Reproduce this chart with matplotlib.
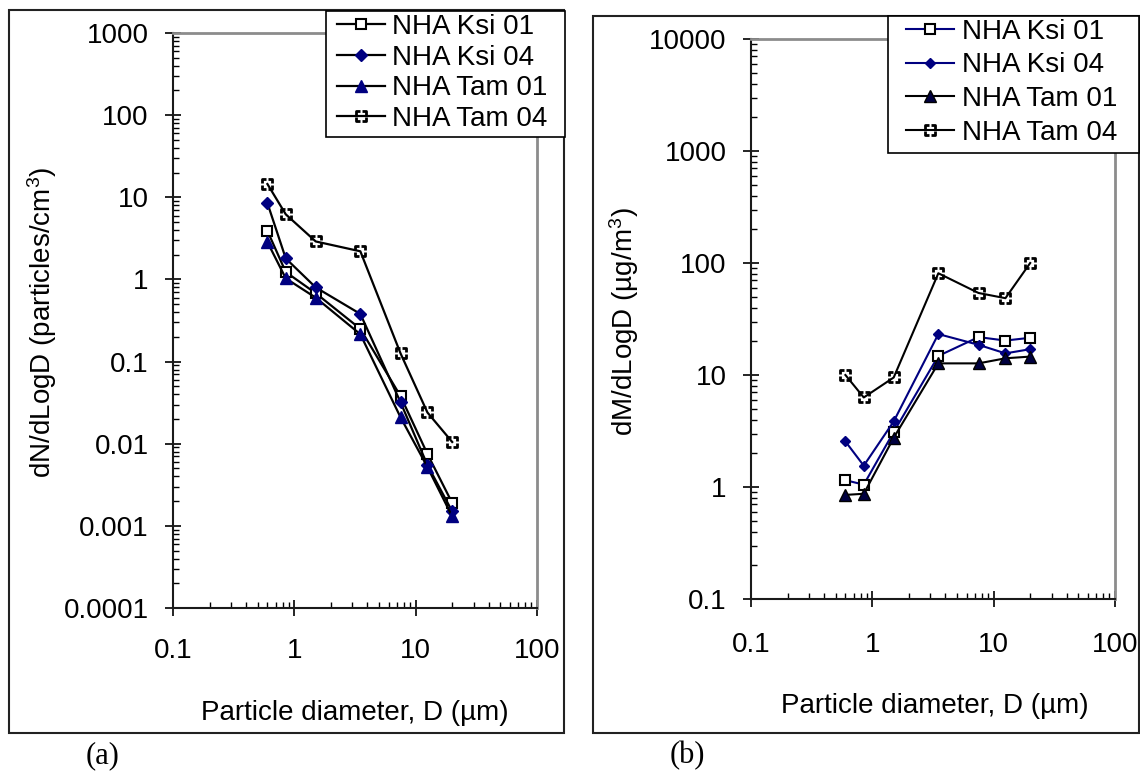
import numpy as np
import matplotlib
matplotlib.use("Agg")
import matplotlib.pyplot as plt
from matplotlib.path import Path
from matplotlib.patches import Rectangle
from matplotlib.ticker import LogLocator, NullFormatter, FuncFormatter

plt.rcParams["font.family"] = ["Liberation Sans", "DejaVu Sans"]
plt.rcParams["mathtext.fontset"] = "custom"
plt.rcParams["mathtext.rm"] = "Liberation Sans"
plt.rcParams["mathtext.it"] = "Liberation Sans:italic"

W, H = 1140, 778

# Diâmetros das partículas (µm)
diam = [0.6, 0.85, 1.5, 3.5, 7.5, 12.5, 20]

labels = ["NHA Ksi 01", "NHA Ksi 04", "NHA Tam 01", "NHA Tam 04"]

# (a) dN/dLogD (particles/cm3)
ksi01_n = [3.9, 1.23, 0.68, 0.25, 0.038, 0.0075, 0.0019]
ksi04_n = [8.5, 1.8, 0.8, 0.38, 0.032, 0.0055, 0.0015]
tam01_n = [2.85, 1.03, 0.6, 0.215, 0.021, 0.0052, 0.0013]
tam04_n = [14.5, 6.2, 2.9, 2.2, 0.126, 0.024, 0.0105]

# (b) dM/dLogD (µg/m3)
ksi01_m = [1.15, 1.05, 3.1, 14.8, 21.8, 20.3, 21.5]
ksi04_m = [2.55, 1.55, 3.85, 23.2, 18.6, 15.6, 17.0]
tam01_m = [0.85, 0.87, 2.75, 12.7, 12.7, 14.1, 14.6]
tam04_m = [10.0, 6.3, 9.5, 81, 54, 48.5, 100]

navy = "#000080"

# marcador "quadrado tracejado" (cantos em L)
verts = [(-0.3, 1), (-1, 1), (-1, 0.3),
         (0.3, 1), (1, 1), (1, 0.3),
         (1, -0.3), (1, -1), (0.3, -1),
         (-0.3, -1), (-1, -1), (-1, -0.3)]
codes = [Path.MOVETO, Path.LINETO, Path.LINETO] * 4
dash_sq = Path(verts, codes)


def fx(px):
    return px / W


def fy(py):
    return 1 - py / H


def estilo_eixo(ax, ylim, xpad):
    ax.set_xscale("log")
    ax.set_yscale("log")
    ax.set_xlim(0.1, 100)
    ax.set_ylim(*ylim)
    for s in ["left", "bottom"]:
        ax.spines[s].set_color("#1a1a1a")
        ax.spines[s].set_linewidth(1.5)
    for s in ["top", "right"]:
        ax.spines[s].set_color("#8c8c8c")
        ax.spines[s].set_linewidth(2)
    for axis in [ax.xaxis, ax.yaxis]:
        axis.set_major_locator(LogLocator(base=10, numticks=20))
        axis.set_minor_locator(LogLocator(base=10, subs=np.arange(2, 10), numticks=100))
        axis.set_minor_formatter(NullFormatter())
        axis.set_major_formatter(FuncFormatter(lambda v, p: f"{v:g}"))
    ax.tick_params(which="major", direction="inout", length=11, width=1.2,
                   color="black", labelsize=20, top=False, right=False)
    ax.tick_params(which="minor", direction="in", length=4.5, width=1.0,
                   color="black", top=False, right=False)
    ax.tick_params(axis="y", which="major", pad=12)
    ax.tick_params(axis="x", which="major", pad=xpad)


def legenda(handles, box, anchor, spacing, textpad):
    # caixa desenhada à parte para controlar as margens
    x0, y0, x1, y1 = box
    fig.add_artist(Rectangle((fx(x0), fy(y1)), fx(x1 - x0), (y1 - y0) / H,
                             transform=fig.transFigure, fc="white", ec="black", lw=1.2, zorder=4))
    fig.legend(handles, labels, loc="upper left", bbox_to_anchor=(fx(anchor[0]), fy(anchor[1])),
               fontsize=20, frameon=False, borderpad=0, labelspacing=spacing,
               handlelength=1.73, handletextpad=textpad, borderaxespad=0)


fig = plt.figure(figsize=(11.4, 7.78), dpi=100)

# Painel (a)
ax1 = fig.add_axes([fx(173), fy(608), fx(537 - 173), (608 - 33) / H])
estilo_eixo(ax1, (1e-4, 1e3), 16)
h1 = []
h1 += ax1.plot(diam, ksi01_n, color="black", lw=1.6, marker="s", ms=7, mfc="white", mec="black", mew=1.5)
h1 += ax1.plot(diam, ksi04_n, color="black", lw=1.6, marker="D", ms=6, mfc=navy, mec=navy)
h1 += ax1.plot(diam, tam01_n, color="black", lw=1.6, marker="^", ms=8, mfc=navy, mec=navy)
h1 += ax1.plot(diam, tam04_n, color="black", lw=1.6, marker=dash_sq, ms=7, mfc="none", mec="black", mew=2)

fig.text(fx(355), fy(720), "Particle diameter, D (\u00b5m)", ha="center", va="baseline", fontsize=20)
fig.text(fx(42), fy(322), "dN/dLogD (particles/cm$^3$)", rotation=90,
         ha="center", va="center", fontsize=20)
legenda(h1, (326, 11, 565, 137), (337, 14), 0.17, 0.25)

# Painel (b)
ax2 = fig.add_axes([fx(751), fy(599), fx(1115 - 751), (599 - 39) / H])
estilo_eixo(ax2, (0.1, 1e4), 18)
h2 = []
h2 += ax2.plot(diam, ksi01_m, color=navy, lw=1.5, marker="s", ms=7, mfc="white", mec="black", mew=1.5)
h2 += ax2.plot(diam, ksi04_m, color=navy, lw=1.5, marker="D", ms=5.5, mfc=navy, mec=navy)
h2 += ax2.plot(diam, tam01_m, color="black", lw=1.5, marker="^", ms=8, mfc="#000040", mec="black")
h2 += ax2.plot(diam, tam04_m, color="black", lw=1.5, marker=dash_sq, ms=7, mfc="none", mec="black", mew=2)

fig.text(fx(935), fy(713), "Particle diameter, D (\u00b5m)", ha="center", va="baseline", fontsize=20)
fig.text(fx(624), fy(322), "dM/dLogD (\u00b5g/m$^3$)", rotation=90,
         ha="center", va="center", fontsize=20)
legenda(h2, (888, 16, 1139, 153), (906, 19), 0.27, 0.29)

# Molduras externas
fig.add_artist(Rectangle((fx(9), fy(733)), fx(564 - 9), (733 - 10) / H,
                         transform=fig.transFigure, fill=False, lw=1.5, ec="#222222"))
fig.add_artist(Rectangle((fx(593), fy(733)), fx(1139 - 593), (733 - 16) / H,
                         transform=fig.transFigure, fill=False, lw=1.5, ec="#222222"))

fig.text(fx(103), fy(756), "(a)", family="Liberation Serif", fontsize=22, ha="center", va="center")
fig.text(fx(687), fy(756), "(b)", family="Liberation Serif", fontsize=22, ha="center", va="center")

fig.savefig("out.png", dpi=100)
